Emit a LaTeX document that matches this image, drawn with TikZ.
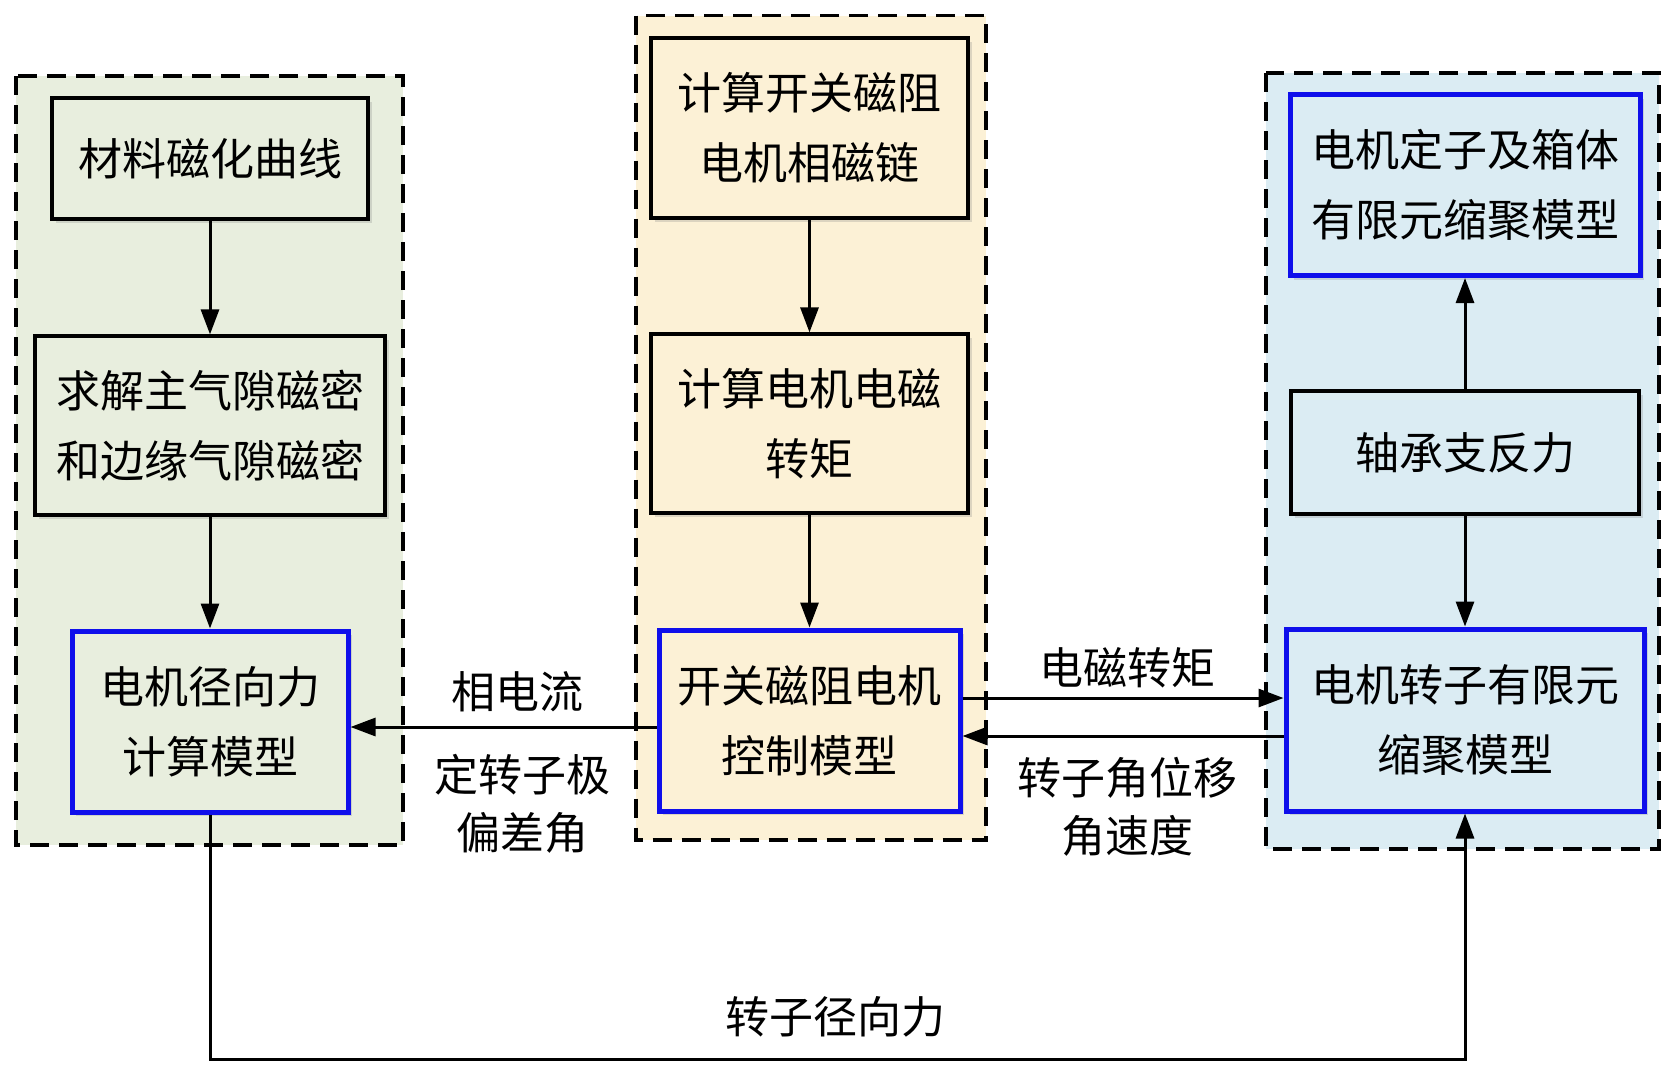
\documentclass[tikz,border=0pt]{standalone}
\usepackage{fontspec}
\newfontfamily\cjk{Noto Sans CJK SC}
\usetikzlibrary{arrows.meta,shadows}
\definecolor{gbg}{RGB}{232,238,222}
\definecolor{ybg}{RGB}{252,241,214}
\definecolor{bbg}{RGB}{219,236,243}
\definecolor{bborder}{RGB}{15,15,235}
\tikzset{
  txt/.style={font=\cjk\fontsize{44}{70}\selectfont, align=center},
  box/.style={txt, draw=black, line width=3.2pt, inner sep=0pt,
    drop shadow={shadow xshift=4pt, shadow yshift=-4pt, opacity=0.25, fill=gray}},
  bluebox/.style={box, draw=bborder, line width=5pt},
  group/.style={draw=black, line width=3.4pt, dash pattern=on 19pt off 10pt},
  arr/.style={line width=3pt, -{Triangle[length=25pt,width=18pt]}},
  lab/.style={txt, inner sep=0pt}
}
\begin{document}
\begin{tikzpicture}[x=1pt,y=-1pt]
\useasboundingbox (0,0) rectangle (1675,1074);
% groups
\filldraw[group, fill=gbg] (16,76) rectangle (403,845);
\filldraw[group, fill=ybg] (636,15.5) rectangle (986,840);
\filldraw[group, fill=bbg] (1266,73) rectangle (1659,849);
% left
\node[box, fill=gbg, minimum width=316pt, minimum height=121pt] (L1) at (210,158.5) {材料磁化曲线};
\node[box, fill=gbg, minimum width=350pt, minimum height=179pt] (L2) at (210,425.5) {求解主气隙磁密\\和边缘气隙磁密};
\node[bluebox, fill=gbg, minimum width=276pt, minimum height=181pt] (L3) at (210,721.5) {电机径向力\\计算模型};
% middle
\node[box, fill=ybg, minimum width=317pt, minimum height=180pt] (M1) at (809.5,128) {计算开关磁阻\\电机相磁链};
\node[box, fill=ybg, minimum width=317pt, minimum height=179pt] (M2) at (809.5,423.5) {计算电机电磁\\转矩};
\node[bluebox, fill=ybg, minimum width=301pt, minimum height=181pt] (M3) at (809.5,720.5) {开关磁阻电机\\控制模型};
% right
\node[bluebox, fill=bbg, minimum width=350pt, minimum height=181pt] (R1) at (1465,185) {电机定子及箱体\\有限元缩聚模型};
\node[box, fill=bbg, minimum width=348pt, minimum height=123pt] (R2) at (1465,452.5) {轴承支反力};
\node[bluebox, fill=bbg, minimum width=358pt, minimum height=182pt] (R3) at (1465,720) {电机转子有限元\\缩聚模型};
% vertical arrows
\draw[arr] (L1.south) -- (L2.north);
\draw[arr] (L2.south) -- (L3.north);
\draw[arr] (M1.south) -- (M2.north);
\draw[arr] (M2.south) -- (M3.north);
\draw[arr] (R2.north) -- (R1.south);
\draw[arr] (R2.south) -- (R3.north);
% horizontal arrows
\draw[arr] ([yshift=-6.5pt]M3.west) -- ([yshift=-6.5pt]M3.west -| L3.east);
\draw[arr] ([yshift=22.5pt]M3.east) -- ([yshift=22.5pt]M3.east -| R3.west);
\draw[arr] ([yshift=-16pt]R3.west) -- ([yshift=-16pt]R3.west -| M3.east);
% bottom loop
\coordinate (BL) at (210,1059);
\draw[arr] (L3.south) -- (BL) -| (R3.south);
% labels
\node[lab] (t1) at (517,692) {相电流};
\node[lab, font=\cjk\fontsize{44}{58}\selectfont] (t2) at (522,804) {定转子极\\偏差角};
\node[lab] (t3) at (1127,668) {电磁转矩};
\node[lab, font=\cjk\fontsize{44}{58}\selectfont] (t4) at (1127,807) {转子角位移\\角速度};
\node[lab] (t5) at (835,1017) {转子径向力};
\end{tikzpicture}
\end{document}
